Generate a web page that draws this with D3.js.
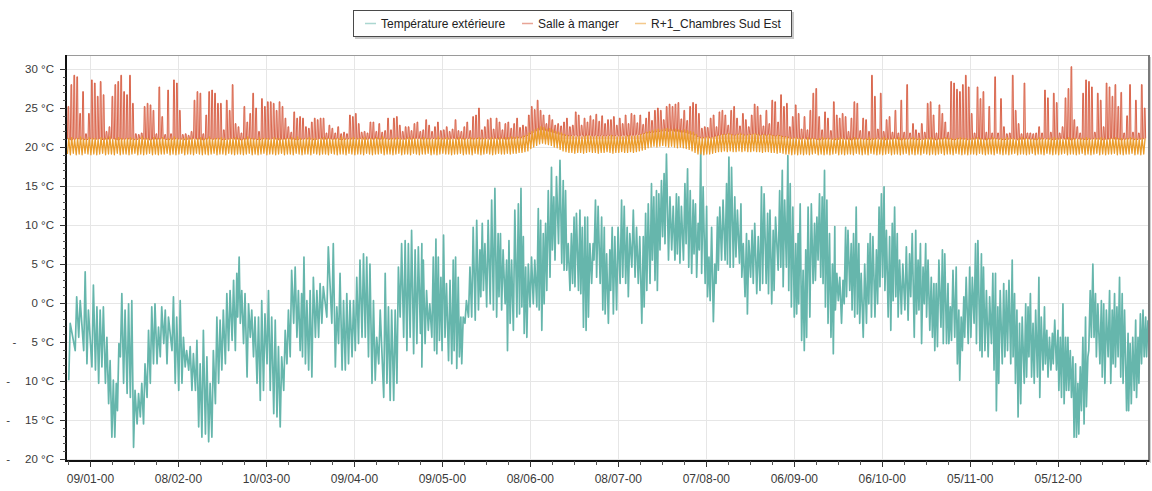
<!DOCTYPE html>
<html lang="fr">
<head>
<meta charset="utf-8">
<title>Températures</title>
<script src="https://cdn.jsdelivr.net/npm/d3@7/dist/d3.min.js"></script>
<style>
  html, body { margin: 0; padding: 0; background: #fff; }
  svg { display: block; font-family: "Liberation Sans", Arial, sans-serif; }
</style>
</head>
<body>
<svg id="chart" width="1152" height="491"></svg>
<script>
// ---- Séries ----
const seriesNames = ["Température extérieure", "Salle à manger", "R+1_Chambres Sud Est"];
const seriesColors = ["#66b6ac", "#d65a3f", "#eb9c2b"];

// Température extérieure : jour de l'année du relevé, minimum et maximum (°C)
const extJour = [
  0.6,2.8,4.0,5.7,6.8,8.5,9.7,10.8,11.9,13.1,14.2,15.3,16.3,17.2,18.2,19.3,20.5,21.6,22.7,23.9,
  25.0,26.1,27.3,28.4,29.5,30.7,31.8,33.0,34.1,35.8,36.9,38.1,39.2,40.3,41.5,42.6,43.8,44.9,46.0,47.2,
  48.3,49.4,50.6,51.7,52.8,54.0,55.1,56.3,57.4,58.2,59.1,60.2,61.4,62.5,63.6,64.8,65.9,67.0,68.2,69.3,
  70.5,71.6,72.7,73.9,75.0,76.1,77.3,78.4,79.5,80.3,81.3,82.4,83.5,84.7,85.8,86.9,88.6,90.3,91.5,92.6,
  93.8,94.9,96.0,97.2,98.3,99.4,100.6,101.7,102.8,104.0,105.1,106.3,108.0,109.1,110.2,111.4,112.5,113.6,114.8,115.9,
  117.0,118.2,119.3,120.5,
  121.0,122.1,123.2,124.4,125.3,126.1,127.0,127.9,128.9,130.1,131.2,132.0,132.9,133.8,134.6,135.7,136.9,138.0,139.2,140.3,
  141.1,142.0,143.1,144.3,145.4,146.5,147.3,148.2,149.4,150.2,151.1,152.2,153.4,154.3,155.1,155.9,156.8,157.9,159.0,160.2,
  161.0,161.9,162.7,163.6,164.7,165.5,166.4,167.6,168.7,169.5,170.4,171.5,172.4,173.2,174.4,175.2,176.1,177.0,177.8,178.9,
  179.7,180.6,181.8,182.7,183.5,184.6,185.4,186.3,187.4,188.6,189.5,190.5,191.4,192.6,193.7,194.8,196.0,196.8,197.7,198.8,
  199.6,200.5,201.3,202.2,203.1,203.9,205.1,206.2,207.3,208.1,209.0,210.2,211.1,212.0,213.0,213.8,214.7,215.6,216.4,217.6,
  218.4,219.3,220.4,221.3,222.1,223.2,224.4,225.2,226.1,227.2,228.1,229.3,230.1,231.2,232.0,233.1,234.0,235.2,236.3,237.2,
  238.4,239.2,240.3,241.1,
  242.5,243.4,244.2,245.3,246.1,247.0,248.0,248.8,249.5,250.5,251.4,252.2,253.3,254.4,255.2,256.1,257.0,257.8,258.6,259.5,
  260.5,261.3,262.0,263.0,264.1,265.0,265.8,266.9,267.7,268.6,269.5,270.3,271.5,272.6,273.4,274.3,275.5,276.4,277.2,278.1,
  278.9,280.0,280.9,281.7,282.6,283.4,284.5,285.7,286.8,287.7,288.9,289.7,290.5,291.4,292.3,293.1,294.2,295.1,295.9,296.8,
  298.0,298.8,299.9,300.7,301.6,302.7,303.6,304.4,305.3,306.1,307.3,308.2,309.3,310.1,311.3,312.0,313.0,314.1,315.2,316.1,
  316.9,317.7,318.9,319.8,320.7,321.8,322.6,323.4,324.3,325.2,326.4,327.2,328.0,328.9,329.8,330.9,331.7,332.8,333.6,334.5,
  335.5,336.3,337.4,338.2,339.1,340.0,340.8,341.6,342.5,343.4,344.2,345.0,345.9,346.8,347.6,348.4,349.3,350.2,351.0,352.2,
  353.0,353.9,355.0,355.9,356.7,357.5,358.4,359.3,360.1,361.3,362.0,362.9,363.9,364.7,365.5,366.4,367.3,368.1
];
const extMin = [
  -9.9,-6.1,-4.4,-6.1,-7.8,-8.2,-8.6,-10.3,-8.2,-10.3,-12.9,-17.2,-17.2,-13.8,-6.9,-10.3,-11.6,-12.1,-18.5,-15.5,
  -14.6,-15.5,-12.1,-10.3,-7.8,-7.8,-6.9,-5.2,-7.8,-6.1,-10.3,-11.2,-10.3,-8.2,-8.6,-11.2,-11.2,-15.9,-17.2,-16.8,
  -17.8,-17.2,-12.9,-10.3,-8.6,-7.8,-6.1,-4.8,-6.1,-1.8,-2.6,-5.2,-9.5,-4.4,-6.9,-10.3,-12.5,-11.2,-7.8,-11.2,
  -14.2,-14.6,-15.9,-11.2,-7.8,-6.9,-2.6,-4.4,-6.1,-6.9,-7.8,-8.6,-9.5,-4.4,-4.4,-2.6,-1.8,-2.6,-8.2,-5.2,
  -8.6,-8.6,-7.8,-6.9,-6.1,-5.2,-4.4,-4.4,-6.9,-10.3,-9.9,-7.8,-12.1,-10.3,-12.5,-12.5,-10.3,-1.8,-4.4,-6.1,
  -4.4,-6.5,-5.2,-3.9,
  -8.2,-5.2,-3.5,-4.4,-6.1,-6.5,-4.8,-6.1,-4.4,-7.4,-7.8,-6.1,-8.4,-6.9,-7.8,-2.6,-1.8,-1.8,-2.2,-0.9,
  0.8,1.6,-0.5,-0.1,-0.9,-1.8,0.8,-0.9,-0.1,-6.1,-2.6,-3.5,-1.8,-1.4,-0.5,-3.9,-4.4,-0.5,-0.1,-0.5,
  -0.9,-3.5,-0.1,1.6,3.3,6.8,5.5,7.6,5.1,4.2,4.2,1.6,2.5,2.1,1.6,1.2,-3.1,-3.5,-1.8,2.5,
  5.5,3.3,2.5,-0.9,-1.4,-2.6,1.6,-1.4,-0.9,2.5,3.3,2.5,0.8,4.6,3.3,2.5,-2.6,-0.5,1.6,2.5,
  5.5,2.9,1.6,6.8,8.5,7.6,5.5,6.8,5.5,6.3,5.1,5.5,7.6,4.6,3.8,6.3,3.3,6.8,3.8,2.5,
  0.8,0.3,-2.4,2.5,4.2,5.5,5.5,5.0,4.6,4.6,5.9,5.1,3.3,0.8,-1.4,3.3,2.5,1.2,1.6,2.5,
  2.5,1.2,-0.1,1.6,
  4.2,4.6,2.1,4.6,1.6,-0.5,-1.8,-1.4,-0.1,-4.8,-6.1,-4.4,-1.8,2.5,2.9,5.5,3.3,2.5,-0.5,-2.6,
  -4.4,-6.5,-0.9,0.3,-2.6,-0.1,0.8,1.6,-0.9,-1.8,-1.4,-2.6,-4.4,-2.6,-0.1,-1.8,-1.8,-0.1,2.1,3.3,
  1.6,-1.8,-3.5,0.3,0.8,-1.8,-1.4,-0.9,-2.2,0.8,-4.4,-1.4,-0.9,-5.2,-0.1,-1.8,-3.5,-4.4,-6.1,-5.6,
  -3.1,-5.2,-5.2,-5.2,-4.8,-4.4,-7.8,-9.9,-6.1,-4.4,-5.2,-4.4,-2.6,-5.2,-6.1,-6.9,-6.1,-6.9,-5.2,-8.6,
  -13.8,-10.3,-7.8,-6.9,-6.1,-7.8,-6.9,-10.3,-14.6,-12.9,-10.3,-9.5,-6.9,-9.5,-10.3,-9.5,-12.1,-8.6,-7.8,-9.5,
  -8.6,-7.8,-8.6,-11.2,-12.1,-12.9,-11.2,-11.2,-12.1,-17.2,-17.2,-16.8,-13.8,-15.5,-13.3,-6.1,-4.4,-4.4,-6.9,-7.8,
  -9.5,-10.3,-6.9,-10.3,-7.8,-8.2,-6.9,-9.5,-10.3,-13.8,-13.8,-12.9,-11.2,-12.1,-10.3,-7.8,-6.9,-6.9
];
const extMax = [
  -2.6,0.8,0.3,4.0,-0.9,2.3,-0.5,-0.9,-0.5,-4.4,-7.4,-9.9,-10.3,-5.2,1.2,-0.9,-0.1,0.3,-11.2,-11.6,
  -10.3,-7.8,-3.5,-0.5,-0.1,-3.1,-0.5,-0.9,-1.8,0.8,-1.8,0.3,-4.4,-6.1,-5.6,-6.5,-4.8,-7.8,-3.5,-6.9,
  -10.3,-6.1,-1.8,-2.2,-0.9,1.2,1.6,2.9,3.8,5.9,1.6,1.2,-0.1,-0.9,-1.8,-1.8,0.3,-1.4,1.6,-1.8,
  -2.2,-5.6,-6.9,-3.5,-0.9,4.2,4.6,1.6,1.2,5.9,0.3,1.6,3.3,1.6,2.5,2.1,7.2,7.6,-0.5,3.8,
  0.3,1.2,0.3,0.3,3.3,5.5,6.3,5.9,5.0,0.3,-4.4,-0.9,3.8,-0.5,-0.9,-0.9,4.6,7.6,8.0,7.6,
  9.3,6.8,7.2,7.6,
  5.5,1.6,-0.1,5.9,8.2,5.9,3.3,8.7,2.5,2.9,5.5,5.9,3.3,-1.8,-1.8,0.3,4.6,9.7,10.6,6.8,
  10.2,7.6,10.6,13.2,14.7,8.9,8.9,6.8,5.5,8.0,5.5,11.9,12.7,14.7,8.5,4.6,5.0,5.9,5.5,12.1,
  10.6,8.9,10.2,14.4,17.4,13.6,16.2,18.3,15.7,14.4,7.6,8.9,11.0,11.5,11.9,9.7,11.0,11.0,7.6,7.6,
  13.2,12.4,11.0,9.7,6.3,6.8,9.7,8.5,9.7,13.2,12.4,9.7,8.9,11.9,9.7,8.5,8.5,11.5,12.7,15.3,
  13.6,14.4,14.0,15.7,16.6,19.1,13.6,12.4,14.0,13.6,12.4,15.3,17.2,14.4,13.2,12.7,10.2,19.6,14.9,12.4,
  5.9,9.7,5.0,11.0,12.3,13.2,15.3,18.7,17.4,13.6,11.9,12.7,7.6,8.9,8.0,9.3,10.2,8.5,14.9,14.0,
  11.5,11.9,9.3,11.0,
  14.4,17.0,13.2,18.9,15.3,12.3,7.6,8.9,12.7,4.2,6.8,12.3,12.7,10.2,11.0,14.0,13.6,17.0,13.2,8.9,
  5.0,9.8,3.8,3.3,2.9,9.7,9.3,7.6,8.9,12.3,7.6,3.8,5.0,7.6,8.9,8.5,6.8,12.3,14.0,14.9,
  9.3,8.5,10.2,12.3,8.9,5.5,5.0,7.2,6.3,8.9,9.3,5.5,7.6,4.6,7.6,5.5,3.3,2.5,2.5,5.5,
  6.8,6.3,2.5,-0.5,4.2,4.6,-0.9,-1.8,0.8,3.3,4.6,3.3,7.6,8.0,6.3,4.6,1.6,0.8,3.8,3.8,
  -0.5,1.6,2.5,1.6,2.9,5.5,1.2,-0.9,-2.6,-1.8,-0.1,-0.5,1.2,-2.6,-0.9,3.3,-1.8,-0.5,-3.5,-4.4,
  -3.9,-2.2,-3.5,-4.4,-0.1,-4.4,-4.4,-6.1,-6.9,-7.8,-10.3,-8.2,-4.4,-1.8,-6.9,1.6,5.0,1.2,-0.1,0.3,
  -0.1,-0.9,1.6,-0.9,1.2,-0.5,3.3,1.2,-0.9,-3.9,-5.2,-4.4,-2.2,-4.4,-1.4,-0.9,-1.8,-2.2
];

// Salle à manger : minimum et maximum journaliers (°C), jour 0 = 1er janvier
const salleMin = [
  21.0,20.9,21.0,21.1,21.0,21.0,20.9,21.0,21.1,21.0, 21.0,21.1,20.9,21.0,21.0,21.1,21.0,20.9,21.0,21.0,
  21.1,21.0,21.0,20.9,21.0,21.1,21.0,21.0,20.9,21.0, 21.0,21.0,21.1,21.0,20.9,21.0,21.0,21.1,21.0,21.0,
  20.9,21.0,21.0,21.1,21.0,21.0,20.9,21.0,21.1,21.0, 21.0,21.1,21.0,20.9,21.0,21.0,21.1,21.0,21.0,20.9,
  21.0,21.0,21.1,21.0,21.0,20.9,21.0,21.1,21.0,21.0, 21.1,21.0,20.9,21.0,21.0,21.1,21.0,21.0,20.9,21.0,
  21.0,21.1,21.0,21.0,20.9,21.0,21.1,21.0,21.0,21.1, 21.0,21.0,21.1,20.9,21.0,21.0,21.1,21.0,21.1,21.0,
  21.1,21.0,21.0,21.1,21.0,21.1,21.0,21.0,21.1,21.0, 21.0,21.1,21.0,21.1,21.0,21.0,21.1,21.0,21.1,21.1,
  21.1,21.0,21.1,21.0,21.1,21.1,21.0,21.1,21.0,21.1, 21.0,21.1,21.1,21.0,21.1,21.0,21.1,21.1,21.0,21.1,
  21.1,21.0,21.1,21.1,21.0,21.1,21.1,21.0,21.1,21.0, 21.0,21.1,21.1,21.2,21.2,21.3,21.4,21.6,21.8,22.0,
  22.1,22.2,22.2,22.1,22.0,21.9,21.8,21.7,21.6,21.5, 21.5,21.4,21.5,21.5,21.4,21.5,21.4,21.5,21.5,21.4,
  21.5,21.4,21.5,21.4,21.5,21.5,21.4,21.5,21.4,21.5, 21.5,21.4,21.5,21.5,21.6,21.6,21.7,21.8,21.8,21.9,
  21.9,22.0,22.0,22.1,22.1,22.0,22.1,22.0,22.0,21.9, 21.9,21.8,21.7,21.6,21.5,21.3,21.2,21.2,21.3,21.2,
  21.3,21.4,21.5,21.6,21.6,21.7,21.6,21.5,21.6,21.7, 21.6,21.5,21.6,21.6,21.7,21.6,21.5,21.6,21.5,21.6,
  21.5,21.4,21.5,21.4,21.3,21.3,21.2,21.1,21.2,21.1, 21.0,21.1,21.0,21.0,21.1,21.0,20.9,21.0,21.0,21.1,
  21.0,21.0,20.9,21.0,21.1,21.0,21.0,20.9,21.0,21.0, 21.1,21.0,21.0,20.9,21.0,21.0,21.1,21.0,21.0,20.9,
  21.0,21.0,21.1,21.0,20.9,21.0,21.0,21.1,21.0,21.0, 20.9,21.0,21.0,21.1,21.0,21.0,20.9,21.0,21.0,21.1,
  21.0,21.0,20.9,21.0,21.1,21.0,21.0,20.9,21.0,21.0, 21.1,21.0,21.0,20.9,21.0,21.0,21.1,21.0,21.0,20.9,
  21.0,21.0,21.1,21.0,20.9,21.0,21.0,21.1,21.0,21.0, 20.9,21.0,21.0,21.1,21.0,21.0,20.9,21.0,21.0,21.1,
  21.0,21.0,20.9,21.0,21.1,21.0,21.0,20.9,21.0,21.0, 21.1,21.0,21.0,20.9,21.0,21.0,21.1,21.0,21.0,20.9,
  21.0,21.0,21.1,21.0,20.9,21.0,21.0,21.1
];
const salleMax = [
  25.2,28.0,29.2,29.0,24.3,27.1,21.7,24.3,28.6,28.2, 26.5,28.4,26.7,22.0,22.6,26.5,28.0,28.4,29.2,27.1,
  26.7,29.2,25.6,21.7,21.6,21.8,25.2,25.6,25.4,24.7, 21.7,27.7,23.9,21.6,27.3,21.7,28.6,28.2,24.7,21.6,
  21.7,21.5,22.0,26.0,27.1,26.9,21.7,24.1,27.1,27.3, 26.9,25.6,25.6,22.2,26.0,24.7,28.0,23.0,22.6,21.8,
  25.2,23.2,24.3,26.9,25.0,22.0,26.2,25.2,25.8,25.8, 25.6,24.7,25.8,25.2,23.7,22.6,21.9,24.5,23.7,23.9,
  23.7,22.6,22.4,23.2,23.7,23.5,23.7,23.7,21.8,22.8, 22.4,21.8,22.6,21.7,21.9,21.7,24.1,23.9,24.3,23.0,
  21.9,22.0,21.8,23.2,23.2,22.0,23.0,21.9,22.1,23.7, 22.2,23.7,23.9,22.8,22.0,22.6,22.6,22.1,23.0,23.2,
  22.0,22.2,23.5,22.8,22.0,22.6,23.2,22.1,22.2,22.6, 22.0,22.3,23.5,22.1,22.0,22.6,23.2,22.1,23.9,24.1,
  25.0,22.2,22.6,23.5,23.7,22.3,23.7,23.2,22.2,23.0, 23.2,22.4,23.0,23.7,22.5,22.8,22.6,24.1,25.2,24.8,
  26.0,24.7,24.1,23.0,24.1,23.5,22.8,23.0,22.7,23.2, 23.7,22.6,22.8,24.5,24.1,22.8,23.7,23.2,24.0,23.5,
  24.2,23.3,24.0,23.0,23.5,23.5,23.9,22.8,23.7,23.0, 24.1,23.0,24.3,24.1,23.1,24.1,22.9,23.7,24.5,23.4,
  24.7,25.0,24.7,23.5,25.2,25.5,25.2,25.5,25.7,23.6, 24.7,23.4,25.2,25.7,25.5,24.3,22.4,22.6,22.5,23.7,
  24.1,22.6,24.5,24.7,24.1,22.8,24.7,25.2,23.7,22.7, 24.3,23.5,22.6,24.1,25.5,25.2,24.1,22.7,24.7,23.0,
  26.0,25.8,23.2,26.7,25.2,25.6,22.6,23.9,25.4,24.3, 22.3,23.9,22.2,24.7,26.9,27.5,23.9,22.2,24.5,23.7,
  22.1,25.8,24.1,23.7,24.3,23.9,22.0,23.7,25.8,25.6, 22.1,23.7,23.5,22.0,29.2,26.5,22.3,26.9,22.0,23.5,
  23.9,21.9,24.7,21.8,26.0,21.9,28.0,21.8,23.0,22.2, 21.8,23.0,21.9,25.6,25.8,24.1,21.8,25.4,24.3,23.2,
  21.9,28.4,28.2,27.4,27.1,28.0,29.2,27.7,24.3,21.8, 27.7,26.2,27.1,21.9,25.2,21.8,29.0,21.8,26.2,22.6,
  21.7,21.8,29.2,24.7,23.0,21.7,28.2,21.8,21.8,21.7, 21.8,22.6,21.8,27.3,26.3,21.9,26.9,25.7,21.8,22.6,
  26.3,27.5,30.3,23.5,22.6,21.8,26.9,28.6,28.4,27.7, 21.9,26.9,26.0,22.6,28.2,27.7,26.5,28.0,25.2,27.0,
  21.8,24.0,28.0,21.9,26.0,21.8,28.0,25.0
];

// R+1 Chambres Sud Est : minimum et maximum journaliers (°C)
const chambresMin = [
  19.1,19.0,19.2,19.0,19.1,19.0,19.2,19.1,19.0,19.1, 19.0,19.1,19.2,19.0,19.1,19.1,19.0,19.2,19.0,19.1,
  19.1,19.0,19.1,19.2,19.0,19.1,19.0,19.1,19.2,19.0, 19.1,19.0,19.1,19.1,19.2,19.0,19.1,19.0,19.1,19.2,
  19.0,19.1,19.1,19.0,19.2,19.1,19.0,19.1,19.0,19.1, 19.2,19.0,19.1,19.1,19.0,19.2,19.1,19.0,19.1,19.1,
  19.0,19.1,19.2,19.0,19.1,19.0,19.1,19.2,19.0,19.1, 19.1,19.0,19.1,19.2,19.0,19.1,19.1,19.0,19.2,19.1,
  19.0,19.1,19.1,19.0,19.2,19.1,19.0,19.1,19.1,19.0, 19.2,19.1,19.0,19.1,19.1,19.0,19.2,19.1,19.0,19.1,
  19.1,19.0,19.2,19.1,19.0,19.1,19.1,19.2,19.0,19.1, 19.1,19.0,19.1,19.2,19.0,19.1,19.1,19.0,19.2,19.1,
  19.0,19.1,19.1,19.2,19.0,19.1,19.0,19.1,19.2,19.1, 19.1,19.0,19.1,19.1,19.2,19.0,19.1,19.1,19.0,19.2,
  19.1,19.0,19.1,19.2,19.1,19.0,19.1,19.2,19.1,19.1, 19.2,19.1,19.2,19.2,19.3,19.3,19.4,19.5,19.8,20.0,
  20.2,20.4,20.5,20.4,20.3,20.2,20.0,19.9,19.7,19.5, 19.4,19.3,19.3,19.2,19.3,19.3,19.2,19.3,19.4,19.3,
  19.3,19.2,19.3,19.3,19.4,19.3,19.2,19.3,19.3,19.4, 19.3,19.3,19.4,19.3,19.4,19.5,19.6,19.7,19.9,20.0,
  20.1,20.0,20.1,20.2,20.1,20.0,20.1,20.0,19.9,20.0, 19.9,19.8,19.7,19.5,19.3,19.1,19.1,19.0,19.1,19.1,
  19.2,19.3,19.4,19.4,19.5,19.4,19.5,19.4,19.4,19.5, 19.4,19.5,19.4,19.4,19.5,19.4,19.4,19.3,19.4,19.4,
  19.3,19.3,19.2,19.3,19.2,19.1,19.1,19.0,19.1,19.0, 19.1,19.0,19.1,19.0,19.1,19.2,19.0,19.1,19.0,19.1,
  19.0,19.1,19.2,19.0,19.1,19.0,19.1,19.1,19.0,19.2, 19.1,19.0,19.1,19.0,19.2,19.1,19.0,19.1,19.0,19.1,
  19.2,19.0,19.1,19.1,19.0,19.1,19.2,19.0,19.1,19.0, 19.1,19.0,19.2,19.1,19.0,19.1,19.0,19.1,19.2,19.0,
  19.1,19.1,19.0,19.2,19.1,19.0,19.1,19.0,19.1,19.1, 19.0,19.2,19.1,19.0,19.1,19.1,19.0,19.2,19.1,19.0,
  19.1,19.0,19.1,19.2,19.0,19.1,19.1,19.0,19.1,19.2, 19.0,19.1,19.1,19.0,19.2,19.1,19.0,19.1,19.0,19.1,
  19.2,19.0,19.1,19.1,19.0,19.1,19.2,19.0,19.1,19.0, 19.1,19.2,19.0,19.1,19.0,19.1,19.1,19.2,19.0,19.1,
  19.0,19.1,19.1,19.2,19.0,19.1,19.0,19.1
];
const chambresMax = [
  21.1,21.2,21.0,21.1,21.3,21.1,21.0,21.2,21.1,21.1, 21.0,21.2,21.1,21.1,21.3,21.0,21.1,21.2,21.1,21.0,
  21.1,21.2,21.1,21.0,21.1,21.3,21.1,21.1,21.0,21.2, 21.1,21.1,21.2,21.0,21.1,21.1,21.3,21.1,21.0,21.1,
  21.2,21.1,21.1,21.0,21.1,21.2,21.1,21.1,21.3,21.0, 21.1,21.1,21.2,21.1,21.0,21.1,21.1,21.2,21.1,21.0,
  21.1,21.3,21.1,21.1,21.0,21.2,21.1,21.1,21.1,21.0, 21.2,21.1,21.1,21.0,21.1,21.1,21.2,21.1,21.3,21.1,
  21.0,21.1,21.2,21.1,21.1,21.0,21.1,21.2,21.1,21.1, 21.0,21.1,21.1,21.3,21.1,21.0,21.1,21.2,21.1,21.1,
  21.1,21.2,21.0,21.1,21.1,21.2,21.1,21.3,21.1,21.0, 21.1,21.1,21.2,21.1,21.0,21.1,21.2,21.1,21.1,21.0,
  21.1,21.2,21.1,21.1,21.0,21.1,21.3,21.1,21.1,21.2, 21.1,21.0,21.1,21.2,21.1,21.1,21.0,21.2,21.1,21.1,
  21.2,21.1,21.1,21.0,21.2,21.1,21.1,21.2,21.1,21.2, 21.2,21.3,21.2,21.3,21.2,21.4,21.5,21.8,22.0,22.2,
  22.4,22.6,22.5,22.3,22.4,22.2,22.0,21.9,21.8,21.6, 21.5,21.4,21.4,21.3,21.4,21.3,21.4,21.5,21.4,21.3,
  21.4,21.3,21.4,21.3,21.4,21.5,21.4,21.3,21.4,21.3, 21.4,21.5,21.4,21.4,21.5,21.6,21.7,21.9,22.0,22.1,
  22.2,22.3,22.2,22.3,22.4,22.3,22.2,22.3,22.2,22.1, 22.2,22.1,22.0,21.9,21.6,21.3,21.2,21.2,21.3,21.2,
  21.3,21.4,21.5,21.6,21.6,21.7,21.6,21.5,21.6,21.7, 21.6,21.5,21.6,21.6,21.7,21.6,21.5,21.6,21.5,21.6,
  21.5,21.4,21.5,21.4,21.3,21.3,21.2,21.1,21.2,21.1, 21.1,21.0,21.2,21.1,21.1,21.0,21.1,21.2,21.1,21.1,
  21.0,21.1,21.1,21.2,21.1,21.0,21.1,21.1,21.2,21.1, 21.1,21.0,21.1,21.2,21.1,21.1,21.0,21.1,21.2,21.1,
  21.0,21.1,21.1,21.2,21.1,21.1,21.0,21.1,21.2,21.1, 21.1,21.0,21.1,21.1,21.2,21.1,21.0,21.1,21.1,21.2,
  21.1,21.1,21.0,21.1,21.2,21.1,21.1,21.0,21.1,21.1, 21.2,21.1,21.0,21.1,21.1,21.2,21.1,21.0,21.1,21.1,
  21.2,21.1,21.1,21.0,21.1,21.2,21.1,21.1,21.0,21.1, 21.1,21.2,21.1,21.0,21.1,21.1,21.2,21.1,21.1,21.0,
  21.1,21.2,21.1,21.1,21.0,21.1,21.1,21.2,21.1,21.0, 21.1,21.1,21.2,21.1,21.0,21.1,21.1,21.2,21.1,21.1,
  21.0,21.1,21.2,21.1,21.1,21.0,21.1,21.1
];

// Graduations
const xTickLabels = ["09/01-00","08/02-00","10/03-00","09/04-00","09/05-00","08/06-00",
                     "08/07-00","07/08-00","06/09-00","06/10-00","05/11-00","05/12-00"];
const yTickValues = [30, 25, 20, 15, 10, 5, 0, -5, -10, -15, -20];

// ---- Tracé ----
const svg = d3.select("#chart");
const frame = { left: 66, right: 1148, top: 55, bottom: 461 };
const DAY = 864e5;
const origin = Date.UTC(2001, 0, 1);
const lastDay = 368.6;
const dayToDate = d => new Date(origin + d * DAY);
const parseTick = d3.utcParse("%d/%m-%H %Y");
const tickDates = xTickLabels.map(s => parseTick(s + " 2001"));

const x = d3.scaleUtc().domain([dayToDate(0), dayToDate(lastDay)]).range([67, 1148]);
const y = d3.scaleLinear().domain([-20, 30]).range([459, 69]);

// grille
const grid = svg.append("g").attr("stroke", "#e6e6e6").attr("stroke-width", 1).attr("fill", "none");
grid.selectAll("line.h").data(yTickValues).join("line").attr("class", "h")
  .attr("x1", frame.left + 1).attr("x2", frame.right)
  .attr("y1", d => Math.round(y(d)) + 0.5).attr("y2", d => Math.round(y(d)) + 0.5);
grid.selectAll("line.v").data(tickDates).join("line").attr("class", "v")
  .attr("x1", d => Math.round(x(d)) + 0.5).attr("x2", d => Math.round(x(d)) + 0.5)
  .attr("y1", frame.top).attr("y2", frame.bottom);

// zone de tracé
svg.append("clipPath").attr("id", "plotClip").append("rect")
  .attr("x", frame.left + 1).attr("y", frame.top + 1)
  .attr("width", frame.right - frame.left - 1).attr("height", frame.bottom - frame.top - 2);
const plot = svg.append("g").attr("clip-path", "url(#plotClip)");

const line = d3.line().x(d => x(dayToDate(d[0]))).y(d => y(d[1]));

// Température extérieure : alternance mini / maxi de chaque relevé
const extPts = [];
extJour.forEach((d, i) => { extPts.push([d, extMin[i]], [d + 0.5, extMax[i]]); });
plot.append("path").datum(extPts)
  .attr("d", line).attr("fill", "none")
  .attr("stroke", seriesColors[0]).attr("stroke-width", 1.7).attr("stroke-linejoin", "round");

// Salle à manger : pointes journalières
const sallePts = [];
salleMax.forEach((v, i) => {
  sallePts.push([i + 0.15, salleMin[i]], [i + 0.35, v], [i + 0.6, v], [i + 0.8, salleMin[i]]);
});
const salleArea = d3.area().x(d => x(dayToDate(d[0]))).y0(y(21)).y1(d => y(d[1]));
plot.append("path").datum(sallePts).attr("d", salleArea).attr("fill", "#f2c0b3");
plot.append("path").datum(sallePts)
  .attr("d", line).attr("fill", "none")
  .attr("stroke", seriesColors[1]).attr("stroke-width", 0.9).attr("stroke-linejoin", "round");

// Chambres Sud Est
const chPts = [];
chambresMax.forEach((v, i) => { chPts.push([i + 0.15, chambresMin[i]], [i + 0.6, v]); });
plot.append("path").datum(chPts)
  .attr("d", line).attr("fill", "none")
  .attr("stroke", seriesColors[2]).attr("stroke-width", 1.3).attr("stroke-linejoin", "round");

// cadre
svg.append("line").attr("x1", frame.left).attr("x2", frame.right + 1)
  .attr("y1", frame.top + 0.5).attr("y2", frame.top + 0.5).attr("stroke", "#9a9a9a");
svg.append("line").attr("x1", frame.right + 1).attr("x2", frame.right + 1)
  .attr("y1", frame.top).attr("y2", frame.bottom + 1).attr("stroke", "#7a7a7a").attr("stroke-width", 2);
svg.append("line").attr("x1", frame.right + 2.5).attr("x2", frame.right + 2.5)
  .attr("y1", frame.top + 2).attr("y2", frame.bottom + 2).attr("stroke", "#d0d0d0").attr("stroke-width", 1);

// axe vertical
const yAxis = svg.append("g");
yAxis.append("line").attr("x1", frame.left).attr("x2", frame.left)
  .attr("y1", frame.top).attr("y2", frame.bottom + 1).attr("stroke", "#111").attr("stroke-width", 2);
yAxis.selectAll("line.minor").data(d3.range(-20, 31, 1)).join("line").attr("class", "minor")
  .attr("x1", frame.left - 3).attr("x2", frame.left)
  .attr("y1", d => Math.round(y(d)) + 0.5).attr("y2", d => Math.round(y(d)) + 0.5)
  .attr("stroke", "#555");
yAxis.selectAll("line.major").data(yTickValues).join("line").attr("class", "major")
  .attr("x1", frame.left - 6).attr("x2", frame.left)
  .attr("y1", d => Math.round(y(d)) + 0.5).attr("y2", d => Math.round(y(d)) + 0.5)
  .attr("stroke", "#333");
const yLab = yAxis.selectAll("g.lab").data(yTickValues).join("g").attr("class", "lab")
  .attr("transform", d => `translate(54,${y(d)})`)
  .attr("font-size", 11.5).attr("fill", "#3a3a3a");
yLab.append("text").attr("text-anchor", "end").attr("dy", "0.36em")
  .text(d => `${Math.abs(d)} °C`);
yLab.filter(d => d < 0).each(function () {
  const g = d3.select(this);
  const w = g.select("text").node().getComputedTextLength();
  g.append("text").attr("text-anchor", "middle").attr("dy", "0.36em")
    .attr("x", -w - 17).text("-");
});

// axe horizontal
const xAxis = svg.append("g");
xAxis.append("line").attr("x1", frame.left - 1).attr("x2", frame.right + 1)
  .attr("y1", frame.bottom).attr("y2", frame.bottom).attr("stroke", "#111").attr("stroke-width", 2);
xAxis.selectAll("line.minor").data(d3.range(0.5, lastDay, 7.5)).join("line").attr("class", "minor")
  .attr("x1", d => Math.round(x(dayToDate(d))) + 0.5).attr("x2", d => Math.round(x(dayToDate(d))) + 0.5)
  .attr("y1", frame.bottom).attr("y2", frame.bottom + 4).attr("stroke", "#555");
xAxis.selectAll("line.major").data(tickDates).join("line").attr("class", "major")
  .attr("x1", d => Math.round(x(d)) + 0.5).attr("x2", d => Math.round(x(d)) + 0.5)
  .attr("y1", frame.bottom).attr("y2", frame.bottom + 6).attr("stroke", "#333");
xAxis.selectAll("text").data(tickDates).join("text")
  .attr("x", d => x(d)).attr("y", 483)
  .attr("text-anchor", "middle").attr("font-size", 12).attr("fill", "#3a3a3a")
  .text((d, i) => xTickLabels[i]);

// légende
const legend = svg.append("g");
legend.append("rect").attr("x", 355).attr("y", 12).attr("width", 439).attr("height", 27).attr("fill", "#c9c9c9");
legend.append("rect").attr("x", 353.5).attr("y", 10.5).attr("width", 438).attr("height", 26)
  .attr("fill", "#fff").attr("stroke", "#4a4a4a");
const legendX = [365, 522, 635];
const items = legend.selectAll("g.item").data(seriesNames).join("g").attr("class", "item")
  .attr("transform", (d, i) => `translate(${legendX[i]},0)`);
items.append("line").attr("x1", 0).attr("x2", 11).attr("y1", 23.5).attr("y2", 23.5)
  .attr("stroke", (d, i) => seriesColors[i]).attr("stroke-opacity", 0.55).attr("stroke-width", 1.5);
items.append("text").attr("x", 16).attr("y", 28).attr("font-size", 12).attr("fill", "#222")
  .text(d => d);
</script>
</body>
</html>
